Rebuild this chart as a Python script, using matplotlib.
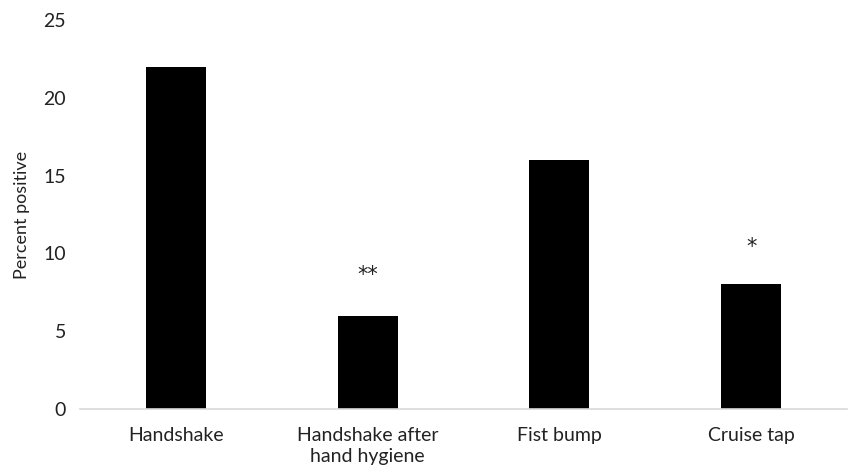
import matplotlib
matplotlib.use("Agg")
import matplotlib.pyplot as plt

categories = ["Handshake", "Handshake after\nhand hygiene", "Fist bump", "Cruise tap"]
percent_positive = [22, 6, 16, 8]
marks = ["", "**", "", "*"]
mark_heights = [0, 8.6, 0, 10.4]

plt.rcParams["font.family"] = ["Lato", "DejaVu Sans"]

fig = plt.figure(figsize=(8.55, 4.75), dpi=100)
ax = fig.add_axes([0.0936, 0.139, 0.897, 0.819])

x = range(len(categories))
ax.bar(x, percent_positive, width=0.313, color="black")
for xi, m, h in zip(x, marks, mark_heights):
    if m:
        ax.text(xi, h, m, ha="center", va="center", fontsize=15,
                color="#222222", family="DejaVu Sans")

ax.set_xlim(-0.5, len(categories) - 0.5)
ax.set_ylim(0, 25)
ax.set_yticks([0, 5, 10, 15, 20, 25])
ax.set_xticks(list(x))
ax.set_xticklabels(categories, fontsize=14, color="#222222", linespacing=1.3)
ax.tick_params(axis="both", length=0, labelsize=14, colors="#222222")
ax.tick_params(axis="y", pad=10)
ax.tick_params(axis="x", pad=13)
ax.set_ylabel("Percent positive", fontsize=13, color="#222222", labelpad=10)

for side in ("top", "right", "left"):
    ax.spines[side].set_visible(False)
ax.spines["bottom"].set_color("#d9d9d9")
ax.spines["bottom"].set_linewidth(1.2)

fig.savefig("out.png", dpi=100)
